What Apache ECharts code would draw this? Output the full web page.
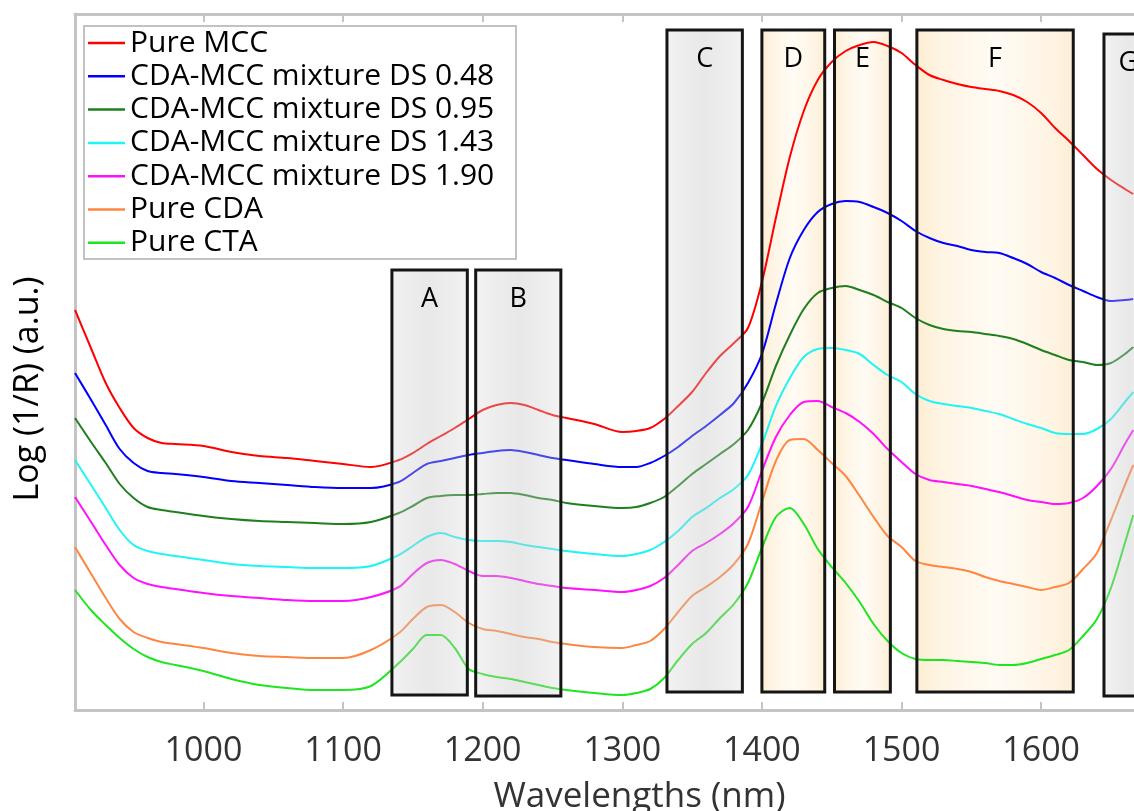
<!DOCTYPE html>
<html>
<head>
<meta charset="utf-8">
<script src="https://cdn.jsdelivr.net/npm/echarts@6/dist/echarts.min.js"></script>
<style>
  html, body { margin: 0; padding: 0; background: #ffffff; overflow: hidden; }
  /* the plot runs past the right edge of the page, so the canvas is wider than the window */
  #chart { width: 1164px; height: 811px; }
</style>
</head>
<body>
<div id="chart"></div>
<script>
// NIR spectra, Log(1/R) in arbitrary units (baseline-offset curves)
const wavelengths = [908, 920, 930, 940, 950, 960, 970, 980,
  1000, 1020, 1040, 1060, 1080, 1100, 1120,
  1140, 1150, 1160, 1170, 1180, 1190, 1200, 1210, 1220, 1230, 1240, 1250, 1260,
  1280, 1300,
  1310, 1320, 1330, 1340, 1350, 1360, 1370, 1380, 1390, 1400,
  1410, 1420, 1430, 1440, 1450, 1460, 1470, 1480, 1490, 1500,
  1510, 1520, 1530, 1540, 1550, 1560, 1570, 1580, 1590, 1600,
  1610, 1620, 1630, 1640, 1650, 1660, 1666];

const pureMCC = [400, 360, 327, 302, 282, 272, 267, 266,
  264, 258, 254, 252, 249, 246, 243,
  250, 257, 266, 274, 282, 291, 300, 305, 307, 305, 300, 295, 292,
  286, 278,
  279, 282, 291, 304, 318, 337, 354, 367, 382, 428,
  492, 553, 599, 630, 648, 659, 665, 668, 664, 657,
  645, 635, 630, 626, 623, 621, 619, 615, 608, 597,
  582, 569, 555, 541, 530, 521, 516];

const mixDS048 = [337, 309, 285, 261, 247, 239, 237, 236,
  233, 229, 227, 225, 223, 222, 222,
  228, 237, 246, 249, 252, 255, 257, 259, 260, 258, 255, 252, 250,
  246, 243,
  243, 247, 254, 263, 274, 284, 295, 307, 327, 356,
  406, 452, 480, 498, 506, 509, 508, 503, 497, 489,
  479, 472, 467, 464, 460, 458, 457, 452, 446, 438,
  432, 425, 419, 413, 409, 410, 411];

const mixDS095 = [292, 267, 247, 226, 212, 203, 200, 198,
  194, 191, 189, 188, 187, 186, 188,
  197, 204, 212, 214, 215, 215, 216, 217, 217, 215, 212, 210, 207,
  204, 202,
  203, 207, 213, 224, 236, 246, 256, 266, 280, 307,
  344, 375, 401, 417, 422, 424, 420, 415, 408, 402,
  392, 385, 381, 379, 378, 376, 374, 371, 366, 360,
  355, 350, 348, 345, 347, 356, 363];

const mixDS143 = [250, 224, 202, 180, 165, 159, 156, 154,
  150, 146, 144, 143, 142, 142, 144,
  155, 164, 173, 177, 173, 170, 169, 169, 168, 165, 163, 161, 159,
  156, 154,
  156, 160, 168, 179, 193, 202, 212, 221, 235, 266,
  304, 332, 353, 361, 362, 360, 356, 345, 335, 328,
  316, 309, 306, 304, 302, 299, 296, 291, 286, 282,
  277, 276, 276, 281, 291, 308, 318];

const mixDS190 = [213, 187, 165, 145, 132, 126, 123, 121,
  117, 114, 112, 110, 109, 109, 113,
  123, 136, 147, 150, 146, 139, 134, 134, 132, 129, 126, 124, 122,
  120, 118,
  120, 124, 132, 145, 159, 167, 176, 187, 203, 239,
  273, 295, 308, 309, 303, 297, 288, 276, 261, 248,
  236, 230, 228, 226, 224, 221, 218, 214, 210, 208,
  206, 207, 212, 224, 241, 266, 280];

const pureCDA = [163, 135, 112, 91, 78, 72, 68, 66,
  62, 57, 54, 53, 52, 52, 60,
  77, 91, 103, 105, 98, 87, 81, 79, 76, 73, 71, 68, 66,
  63, 62,
  65, 69, 81, 98, 114, 123, 133, 146, 166, 208,
  249, 270, 271, 260, 247, 234, 214, 193, 174, 163,
  149, 145, 143, 141, 138, 133, 129, 126, 123, 120,
  123, 127, 141, 157, 190, 225, 245];

const pureCTA = [120, 99, 85, 72, 61, 53, 48, 45,
  39, 31, 25, 22, 20, 20, 24,
  47, 61, 75, 75, 62, 41, 36, 33, 31, 28, 25, 22, 20,
  17, 15,
  17, 21, 32, 50, 66, 77, 92, 106, 127, 162,
  193, 202, 186, 161, 143, 127, 108, 86, 69, 57,
  51, 50, 50, 49, 48, 47, 45, 45, 47, 51,
  55, 60, 74, 91, 122, 167, 195];

const seriesNames = ['Pure MCC', 'CDA-MCC mixture DS 0.48', 'CDA-MCC mixture DS 0.95',
  'CDA-MCC mixture DS 1.43', 'CDA-MCC mixture DS 1.90', 'Pure CDA', 'Pure CTA'];
const seriesValues = [pureMCC, mixDS048, mixDS095, mixDS143, mixDS190, pureCDA, pureCTA];
const seriesColors = ['#ff0000', '#0000ff', '#1f7f1f', '#1ff5f5', '#ff10ff', '#ff8642', '#1ee61e'];

const tickValues = [1000, 1100, 1200, 1300, 1400, 1500, 1600];

// Assignment bands: wavelength span, vertical extent (a.u.), shading type
const bandNames = ['A', 'B', 'C', 'D', 'E', 'F', 'G'];
const bandFrom  = [1135, 1195, 1332, 1400, 1452, 1511, 1645];
const bandTo    = [1189, 1256, 1386, 1445, 1492, 1623, 1680];
const bandLow   = [15, 14, 18, 18, 18, 18, 14];
const bandHigh  = [440, 440, 680, 680, 680, 680, 676];
const bandKind  = ['gray', 'gray', 'gray', 'amber', 'amber', 'amber', 'gray'];

const FONT = "'Open Sans', 'Noto Sans', sans-serif";
const AXIS_GRAY = '#c4c4c4';

const grayFill = {
  type: 'linear', x: 0, y: 0, x2: 1, y2: 0,
  colorStops: [
    { offset: 0, color: 'rgba(220,220,220,0.32)' },
    { offset: 0.18, color: 'rgba(205,205,205,0.34)' },
    { offset: 0.5, color: 'rgba(195,195,195,0.38)' },
    { offset: 0.82, color: 'rgba(205,205,205,0.34)' },
    { offset: 1, color: 'rgba(220,220,220,0.32)' }
  ]
};
const amberFill = {
  type: 'linear', x: 0, y: 0, x2: 1, y2: 0,
  colorStops: [
    { offset: 0, color: '#fdeed3' },
    { offset: 0.15, color: '#fef4e3' },
    { offset: 0.5, color: '#fffbf4' },
    { offset: 0.85, color: '#fef4e3' },
    { offset: 1, color: '#fdefd6' }
  ]
};

function bandPairs(filterFn, styleFn) {
  const out = [];
  bandNames.forEach((n, i) => {
    if (!filterFn(i)) return;
    out.push([
      { name: n, xAxis: bandFrom[i], yAxis: bandHigh[i], itemStyle: styleFn(i) },
      { xAxis: bandTo[i], yAxis: bandLow[i] }
    ]);
  });
  return out;
}

const lineSeries = seriesNames.map((name, i) => ({
  name: name,
  type: 'line',
  data: wavelengths.map((w, j) => [w, seriesValues[i][j]]),
  smooth: 0.3,
  symbol: 'none',
  z: 2,
  lineStyle: { width: 2, color: seriesColors[i] },
  itemStyle: { color: seriesColors[i] },
  emphasis: { disabled: true }
}));

// amber fills sit beneath the spectra
const bandBack = {
  type: 'line', name: 'bands-back', data: [], silent: true,
  markArea: {
    silent: true, z: 1,
    label: { show: false },
    itemStyle: { borderWidth: 0 },
    data: bandPairs(i => bandKind[i] === 'amber', () => ({ color: amberFill }))
  }
};
// gray translucent panels, all frames and letters sit above the spectra
const bandFront = {
  type: 'line', name: 'bands-front', data: [], silent: true,
  markArea: {
    silent: true, z: 3,
    label: {
      show: true, position: 'insideTop', distance: 17,
      fontSize: 27, fontFamily: FONT, color: '#000'
    },
    itemStyle: { borderColor: '#151515', borderWidth: 3 },
    data: bandPairs(() => true, i => ({
      color: bandKind[i] === 'gray' ? grayFill : 'rgba(0,0,0,0)',
      borderColor: '#151515', borderWidth: 3
    }))
  }
};

const chart = echarts.init(document.getElementById('chart'), null, { renderer: 'canvas' });

chart.setOption({
  animation: false,
  backgroundColor: '#ffffff',
  // fixed plot box; the axis title is allowed to run off the bottom edge
  grid: { left: 75, right: 0, top: 14, bottom: 101, containLabel: false, outerBoundsMode: 'none' },
  legend: {
    data: seriesNames,
    orient: 'vertical',
    left: 88, top: 28,
    padding: 0,
    itemGap: 3.3,
    itemWidth: 37, itemHeight: 2.5,
    icon: 'rect',
    selectedMode: false,
    textStyle: { fontFamily: FONT, fontSize: 30, color: '#000', lineHeight: 30 }
  },
  graphic: [{
    type: 'rect', left: 83, top: 25, z: 3,
    shape: { width: 432, height: 233 },
    style: { fill: '#ffffff', stroke: '#c2c2c2', lineWidth: 2 }
  }],
  xAxis: [{
    type: 'value', min: 908, max: 1688, position: 'bottom',
    axisLine: { show: true, onZero: false, lineStyle: { color: AXIS_GRAY, width: 3 } },
    axisTick: { show: true, inside: true, length: 8, customValues: tickValues,
      lineStyle: { color: AXIS_GRAY, width: 2 } },
    axisLabel: { customValues: tickValues, formatter: v => String(v),
      fontFamily: FONT, fontSize: 34, color: '#333', margin: 24 },
    splitLine: { show: false },
    name: 'Wavelengths (nm)', nameLocation: 'middle', nameGap: 70,
    nameTextStyle: { fontFamily: FONT, fontSize: 35, color: '#333', padding: [0, 0, 0, 40] }
  }, {
    type: 'value', min: 908, max: 1688, position: 'top',
    axisLine: { show: true, onZero: false, lineStyle: { color: AXIS_GRAY, width: 3 } },
    axisTick: { show: true, inside: true, length: 8, customValues: tickValues,
      lineStyle: { color: AXIS_GRAY, width: 2 } },
    axisLabel: { show: false },
    splitLine: { show: false }
  }],
  yAxis: {
    type: 'value', min: 0, max: 696,
    axisLine: { show: true, onZero: false, lineStyle: { color: AXIS_GRAY, width: 3 } },
    axisTick: { show: false },
    axisLabel: { show: false },
    splitLine: { show: false },
    name: 'Log (1/R) (a.u.)', nameLocation: 'middle', nameRotate: 90, nameGap: 30,
    nameTextStyle: { fontFamily: FONT, fontSize: 34, color: '#000', padding: [0, 54, 0, 0] }
  },
  series: [bandBack].concat(lineSeries, [bandFront])
});
</script>
</body>
</html>
